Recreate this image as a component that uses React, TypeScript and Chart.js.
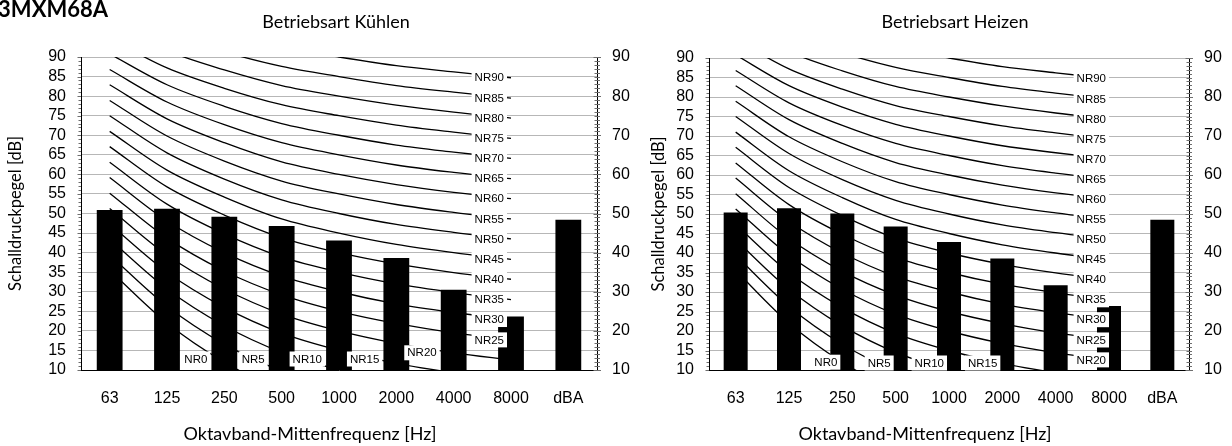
import React, { useEffect, useRef } from 'react';
import { Chart, registerables } from 'chart.js';

Chart.register(...registerables);

// ---- data ----
const categories = ['63', '125', '250', '500', '1000', '2000', '4000', '8000', 'dBA'];
const coolingLevels = [50.9, 51.2, 49.2, 46.8, 43.1, 38.6, 30.5, 23.7, 48.4];
const heatingLevels = [50.4, 51.5, 50.1, 46.8, 42.8, 38.6, 31.7, 26.4, 48.5];

// NR curves (63 ... 8000 Hz)
const nr0 = [35.5, 22.0, 12.0, 4.8, 0.0, -3.5, -6.1, -8.0];
const nr5 = [39.4, 26.3, 16.6, 9.7, 5.0, 1.6, -1.0, -2.8];
const nr10 = [43.4, 30.7, 21.3, 14.5, 10.0, 6.6, 4.2, 2.3];
const nr15 = [47.3, 35.0, 26.0, 19.4, 15.0, 11.7, 9.3, 7.4];
const nr20 = [51.3, 39.4, 30.7, 24.3, 20.0, 16.8, 14.4, 12.6];
const nr25 = [55.2, 43.7, 35.3, 29.2, 25.0, 21.9, 19.5, 17.7];
const nr30 = [59.2, 48.1, 40.0, 34.0, 30.0, 26.9, 24.7, 22.9];
const nr35 = [63.1, 52.4, 44.8, 38.9, 35.0, 32.0, 29.8, 28.0];
const nr40 = [67.1, 56.8, 49.6, 43.8, 40.0, 37.1, 34.9, 33.2];
const nr45 = [71.0, 61.1, 54.2, 48.6, 45.0, 42.1, 40.0, 38.3];
const nr50 = [75.0, 65.5, 58.8, 53.5, 50.0, 47.2, 45.2, 43.5];
const nr55 = [78.9, 69.8, 63.4, 58.3, 55.0, 52.3, 50.3, 48.6];
const nr60 = [82.9, 74.2, 68.1, 63.2, 60.0, 57.4, 55.4, 53.8];
const nr65 = [86.8, 78.5, 72.7, 68.1, 65.0, 62.4, 60.5, 58.9];
const nr70 = [90.8, 82.9, 77.4, 73.0, 70.0, 67.5, 65.7, 64.1];
const nr75 = [94.7, 87.2, 82.0, 77.8, 75.0, 72.6, 70.8, 69.2];
const nr80 = [98.7, 91.6, 86.7, 82.7, 80.0, 77.7, 75.9, 74.4];
const nr85 = [102.6, 95.9, 91.3, 87.6, 85.0, 82.7, 81.0, 79.5];
const nr90 = [106.6, 100.3, 96.0, 92.5, 90.0, 87.8, 86.2, 84.7];

const nrNames = ['NR0', 'NR5', 'NR10', 'NR15', 'NR20', 'NR25', 'NR30', 'NR35', 'NR40', 'NR45',
  'NR50', 'NR55', 'NR60', 'NR65', 'NR70', 'NR75', 'NR80', 'NR85', 'NR90'];
const nrCurves = [nr0, nr5, nr10, nr15, nr20, nr25, nr30, nr35, nr40, nr45,
  nr50, nr55, nr60, nr65, nr70, nr75, nr80, nr85, nr90];

// category index at which each NR label sits
const coolingLabelAnchor = [2, 3, 4, 5, 6, 7, 7, 7, 7, 7, 7, 7, 7, 7, 7, 7, 7, 7, 7];
const heatingLabelAnchor = [2, 3, 4, 5, 7, 7, 7, 7, 7, 7, 7, 7, 7, 7, 7, 7, 7, 7, 7];

const yMin = 10;
const yMax = 90;

const TITLE_FONT = 'Lato, "Open Sans", sans-serif';
const TICK_FONT = '"Liberation Sans", Arial, sans-serif';

type TextItem = { text: string; x: number; y: number; font: string; align: CanvasTextAlign };

type PanelProps = {
  left: number;
  width: number;
  values: number[];
  anchors: number[];
  areaTop: number;
  leftAxisWidth: number;
  rightAxisWidth: number;
  yTitlePad: number;
  labelGap: number;
  lowExtraGap: number;
  bottomClamp: number;
  texts: TextItem[];
};

function NRPanel(props: PanelProps) {
  const ref = useRef<HTMLCanvasElement>(null);

  useEffect(() => {
    const canvas = ref.current;
    if (!canvas) return;
    const { values, anchors, areaTop, leftAxisWidth, rightAxisWidth, yTitlePad, labelGap, lowExtraGap, bottomClamp, texts } = props;

    const extras = {
      id: 'nrExtras',
      afterDatasetsDraw(chart: any) {
        const ctx = chart.ctx as CanvasRenderingContext2D;
        const xs = chart.scales.x;
        const ys = chart.scales.y;
        const area = chart.chartArea;
        ctx.save();
        ctx.font = '11.5px ' + TICK_FONT;
        ctx.textBaseline = 'middle';
        ctx.textAlign = 'right';
        nrCurves.forEach((curve, i) => {
          const k = anchors[i];
          const px = xs.getPixelForValue(k);
          let py = ys.getPixelForValue(curve[k]);
          py = Math.min(py, area.bottom - bottomClamp);
          py = Math.max(py, area.top + 8);
          const right = px - labelGap - (k < 7 ? lowExtraGap : 0);
          const w = ctx.measureText(nrNames[i]).width;
          ctx.fillStyle = '#ffffff';
          ctx.fillRect(right - w - 3, py - 7.5, w + 6, 15);
          ctx.fillStyle = '#000000';
          ctx.fillText(nrNames[i], right, py + 0.5);
        });
        ctx.restore();
      },
      afterDraw(chart: any) {
        const ctx = chart.ctx as CanvasRenderingContext2D;
        const ys = chart.scales.y;
        const area = chart.chartArea;
        ctx.save();
        ctx.strokeStyle = '#6e6e6e';
        ctx.lineWidth = 1;
        ctx.beginPath();
        for (let v = yMin; v <= yMax; v++) {
          const py = Math.round(ys.getPixelForValue(v)) + 0.5;
          const majorL = v % 5 === 0;
          const majorR = v % 10 === 0;
          const l = Math.round(area.left);
          const r = Math.round(area.right);
          ctx.moveTo(l - (majorL ? 3.5 : 2.5), py);
          ctx.lineTo(l, py);
          ctx.moveTo(r - (majorR ? 3.5 : 2.5), py);
          ctx.lineTo(r + (majorR ? 4 : 3), py);
        }
        ctx.stroke();
        ctx.fillStyle = '#000000';
        ctx.textBaseline = 'alphabetic';
        texts.forEach((t) => {
          ctx.font = t.font;
          ctx.textAlign = t.align;
          ctx.fillText(t.text, t.x, t.y);
        });
        ctx.restore();
      },
    };

    const lineSets = nrCurves.map((curve, i) => ({
      type: 'line' as const,
      label: nrNames[i],
      data: curve,
      borderColor: '#000000',
      borderWidth: 1.3,
      pointRadius: 0,
      tension: 0.33,
      capBezierPoints: false,
      fill: false,
      order: 0,
    }));

    const chart = new Chart(canvas, {
      type: 'bar',
      data: {
        labels: categories,
        datasets: [
          {
            type: 'bar',
            label: 'Schalldruckpegel',
            data: values,
            backgroundColor: '#000000',
            borderWidth: 0,
            barPercentage: 0.45,
            categoryPercentage: 1,
            order: 1,
          } as any,
          ...(lineSets as any[]),
        ],
      },
      options: {
        animation: false,
        responsive: false,
        maintainAspectRatio: false,
        events: [],
        layout: { padding: { top: areaTop, bottom: 0, left: 0, right: 0 } },
        plugins: {
          legend: { display: false },
          tooltip: { enabled: false },
          title: { display: false },
        },
        scales: {
          x: {
            type: 'category',
            offset: true,
            grid: { display: false },
            border: { display: true, color: '#000000', width: 1 },
            ticks: {
              font: { family: TICK_FONT, size: 16 },
              color: '#000000',
              padding: 11,
              maxRotation: 0,
              autoSkip: false,
            },
            afterFit: (s: any) => {
              s.height = 76;
            },
          },
          y: {
            position: 'left',
            min: yMin,
            max: yMax,
            ticks: {
              stepSize: 5,
              autoSkip: false,
              font: { family: TICK_FONT, size: 16 },
              color: '#000000',
              padding: 15,
            },
            grid: { color: '#b7b7b7', drawTicks: false, lineWidth: 1 },
            border: { display: true, color: '#000000', width: 1 },
            title: {
              display: true,
              text: 'Schalldruckpegel [dB]',
              font: { family: TITLE_FONT, size: 16.5 },
              color: '#000000',
              padding: { top: yTitlePad, bottom: 0 },
            },
            afterFit: (s: any) => {
              s.width = leftAxisWidth;
            },
          },
          y2: {
            position: 'right',
            min: yMin,
            max: yMax,
            ticks: {
              stepSize: 10,
              autoSkip: false,
              font: { family: TICK_FONT, size: 16 },
              color: '#000000',
              padding: 15,
            },
            grid: { display: false, drawTicks: false },
            border: { display: true, color: '#000000', width: 1 },
            afterFit: (s: any) => {
              s.width = rightAxisWidth;
            },
          },
        },
      } as any,
      plugins: [extras as any],
    });

    let alive = true;
    const fonts: any = (document as any).fonts;
    if (fonts && fonts.load) {
      Promise.all([
        fonts.load('18px Lato'),
        fonts.load('bold 20px Lato'),
        fonts.load('16px "Liberation Sans"'),
      ])
        .catch(() => null)
        .then(() => {
          if (alive) chart.update();
        });
    }

    return () => {
      alive = false;
      chart.destroy();
    };
  }, []);

  return (
    <canvas
      ref={ref}
      width={props.width}
      height={446}
      style={{ position: 'absolute', left: props.left, top: 0, width: props.width, height: 446, display: 'block' }}
    />
  );
}

export default function App() {
  const big = '18px ' + TITLE_FONT;
  return (
    <div style={{ position: 'fixed', left: 0, top: 0, width: 1232, height: 446, background: '#ffffff', overflow: 'hidden' }}>
      <NRPanel
        left={0}
        width={640}
        values={coolingLevels}
        anchors={coolingLabelAnchor}
        areaTop={57}
        leftAxisWidth={81}
        rightAxisWidth={43}
        yTitlePad={6}
        labelGap={7}
        lowExtraGap={10}
        bottomClamp={11}
        texts={[
          { text: '3MXM68A', x: 108, y: 17, font: 'bold 22px ' + TITLE_FONT, align: 'right' },
          { text: 'Betriebsart Kühlen', x: 336, y: 28, font: big, align: 'center' },
          { text: 'Oktavband-Mittenfrequenz [Hz]', x: 310, y: 440, font: big, align: 'center' },
        ]}
      />
      <NRPanel
        left={640}
        width={592}
        values={heatingLevels}
        anchors={heatingLabelAnchor}
        areaTop={58}
        leftAxisWidth={69}
        rightAxisWidth={43}
        yTitlePad={9}
        labelGap={3}
        lowExtraGap={2}
        bottomClamp={7}
        texts={[
          { text: 'Betriebsart Heizen', x: 315, y: 28, font: big, align: 'center' },
          { text: 'Oktavband-Mittenfrequenz [Hz]', x: 285, y: 440, font: big, align: 'center' },
        ]}
      />
    </div>
  );
}
